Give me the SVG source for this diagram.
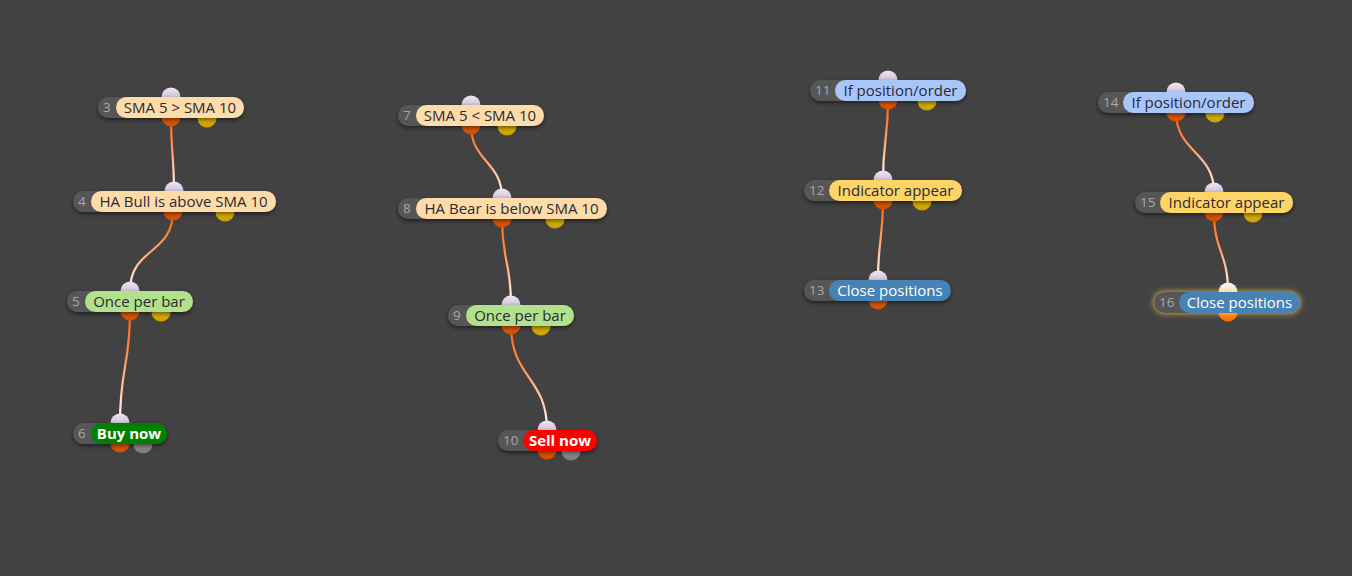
<svg xmlns="http://www.w3.org/2000/svg" width="1352" height="576" viewBox="0 0 1352 576">
<defs>
<style>
.num{font-family:"Open Sans","Noto Sans",sans-serif;font-size:13.5px;fill:#a8a8a8}
.lbl{font-family:"Open Sans","Noto Sans",sans-serif;font-size:15px;fill:#2a2a33;text-anchor:middle}
.lblw{font-family:"Open Sans","Noto Sans",sans-serif;font-size:15px;fill:#ffffff;text-anchor:middle}
.lblb{font-family:"Open Sans","Noto Sans",sans-serif;font-size:15px;font-weight:bold;fill:#ffffff;text-anchor:middle}
.gp{fill:#575757}
.pk{fill:#fddcaa}
.gr{fill:#b2e18c}
.bl{fill:#a9c6fb}
.yl{fill:#ffd466}
.st{fill:#4682b4}
.edge{fill:none;stroke-width:2.2}
</style>
<filter id="sh" x="-20%" y="-50%" width="140%" height="200%">
<feDropShadow dx="0" dy="2" stdDeviation="2" flood-color="#000" flood-opacity="0.55"/>
</filter>
<filter id="glow" x="-20%" y="-80%" width="140%" height="260%">
<feDropShadow dx="0" dy="0" stdDeviation="3" flood-color="#ffd24a" flood-opacity="0.9"/>
</filter>
<linearGradient id="gin" x1="0" y1="0" x2="0" y2="1"><stop offset="0" stop-color="#efe6f4"/><stop offset="1" stop-color="#b3a5c0"/></linearGradient>
<linearGradient id="gin2" x1="0" y1="0" x2="0" y2="1"><stop offset="0" stop-color="#fff6ee"/><stop offset="1" stop-color="#f6d2bc"/></linearGradient>
<linearGradient id="gor" x1="0" y1="0" x2="0" y2="1"><stop offset="0" stop-color="#ff7417"/><stop offset="1" stop-color="#d24d00"/></linearGradient>
<linearGradient id="gor2" x1="0" y1="0" x2="0" y2="1"><stop offset="0" stop-color="#ff9030"/><stop offset="1" stop-color="#ff6a00"/></linearGradient>
<linearGradient id="gye" x1="0" y1="0" x2="0" y2="1"><stop offset="0" stop-color="#ffd500"/><stop offset="1" stop-color="#c9a000"/></linearGradient>
<linearGradient id="ggy" x1="0" y1="0" x2="0" y2="1"><stop offset="0" stop-color="#b0b0b0"/><stop offset="1" stop-color="#7a7a7a"/></linearGradient>
<linearGradient id="e1" gradientUnits="userSpaceOnUse" x1="0" y1="117" x2="0" y2="191"><stop offset="0" stop-color="#ff6000"/><stop offset="0.35" stop-color="#ff8a45"/><stop offset="1" stop-color="#ffffff"/></linearGradient>
<linearGradient id="e2" gradientUnits="userSpaceOnUse" x1="0" y1="211" x2="0" y2="291"><stop offset="0" stop-color="#ff6000"/><stop offset="0.35" stop-color="#ff8a45"/><stop offset="1" stop-color="#ffffff"/></linearGradient>
<linearGradient id="e3" gradientUnits="userSpaceOnUse" x1="0" y1="311" x2="0" y2="423"><stop offset="0" stop-color="#ff6000"/><stop offset="0.35" stop-color="#ff8a45"/><stop offset="1" stop-color="#ffffff"/></linearGradient>
<linearGradient id="e4" gradientUnits="userSpaceOnUse" x1="0" y1="125" x2="0" y2="198"><stop offset="0" stop-color="#ff6000"/><stop offset="0.35" stop-color="#ff8a45"/><stop offset="1" stop-color="#ffffff"/></linearGradient>
<linearGradient id="e5" gradientUnits="userSpaceOnUse" x1="0" y1="218" x2="0" y2="305"><stop offset="0" stop-color="#ff6000"/><stop offset="0.35" stop-color="#ff8a45"/><stop offset="1" stop-color="#ffffff"/></linearGradient>
<linearGradient id="e6" gradientUnits="userSpaceOnUse" x1="0" y1="325" x2="0" y2="430"><stop offset="0" stop-color="#ff6000"/><stop offset="0.35" stop-color="#ff8a45"/><stop offset="1" stop-color="#ffffff"/></linearGradient>
<linearGradient id="e7" gradientUnits="userSpaceOnUse" x1="0" y1="100" x2="0" y2="180"><stop offset="0" stop-color="#ff6000"/><stop offset="0.35" stop-color="#ff8a45"/><stop offset="1" stop-color="#ffffff"/></linearGradient>
<linearGradient id="e8" gradientUnits="userSpaceOnUse" x1="0" y1="200" x2="0" y2="280"><stop offset="0" stop-color="#ff6000"/><stop offset="0.35" stop-color="#ff8a45"/><stop offset="1" stop-color="#ffffff"/></linearGradient>
<linearGradient id="e9" gradientUnits="userSpaceOnUse" x1="0" y1="112" x2="0" y2="192"><stop offset="0" stop-color="#ff6000"/><stop offset="0.35" stop-color="#ff8a45"/><stop offset="1" stop-color="#ffffff"/></linearGradient>
<linearGradient id="e10" gradientUnits="userSpaceOnUse" x1="0" y1="212" x2="0" y2="292"><stop offset="0" stop-color="#ff6000"/><stop offset="0.35" stop-color="#ff8a45"/><stop offset="1" stop-color="#ffffff"/></linearGradient>
</defs>
<rect width="1352" height="576" fill="#424242"/>

<g id="connectors">
<path class="edge" stroke="url(#e1)" d="M171,117 C171,150 174,158 174,191"/>
<path class="edge" stroke="url(#e2)" d="M173,211 C173,255 130,247 130,291"/>
<path class="edge" stroke="url(#e3)" d="M130,311 C130,367 120,367 120,423"/>
<path class="edge" stroke="url(#e4)" d="M471,125 C471,162 502,161 502,198"/>
<path class="edge" stroke="url(#e5)" d="M502,218 C502,262 511,261 511,305"/>
<path class="edge" stroke="url(#e6)" d="M511,325 C511,378 547,377 547,430"/>
<path class="edge" stroke="url(#e7)" d="M888,100 C888,140 883,140 883,180"/>
<path class="edge" stroke="url(#e8)" d="M883,200 C883,240 878,240 878,280"/>
<path class="edge" stroke="url(#e9)" d="M1176,112 C1176,152 1214,152 1214,192"/>
<path class="edge" stroke="url(#e10)" d="M1214,212 C1214,252 1228,252 1228,292"/>
</g>

<g id="node3">
<circle cx="171" cy="97" r="9.5" fill="url(#gin)"/>
<circle cx="171" cy="117" r="9.5" fill="url(#gor)"/>
<circle cx="207" cy="118" r="9.5" fill="url(#gye)"/>
<g filter="url(#sh)"><rect class="gp" x="98" y="97" width="40" height="21" rx="10.5"/><rect class="pk" x="116" y="97" width="128" height="21" rx="10.5"/></g>
<text class="num" x="103" y="112">3</text>
<text class="lbl" x="180" y="112.5">SMA 5 &gt; SMA 10</text>
</g>

<g id="node4">
<circle cx="174" cy="191" r="9.5" fill="url(#gin)"/>
<circle cx="173" cy="211" r="9.5" fill="url(#gor)"/>
<circle cx="225" cy="212" r="9.5" fill="url(#gye)"/>
<g filter="url(#sh)"><rect class="gp" x="73" y="191" width="40" height="21" rx="10.5"/><rect class="pk" x="91" y="191" width="185" height="21" rx="10.5"/></g>
<text class="num" x="78" y="206">4</text>
<text class="lbl" x="183.5" y="206.5">HA Bull is above SMA 10</text>
</g>

<g id="node5">
<circle cx="130" cy="291" r="9.5" fill="url(#gin)"/>
<circle cx="130" cy="311" r="9.5" fill="url(#gor)"/>
<circle cx="161" cy="312" r="9.5" fill="url(#gye)"/>
<g filter="url(#sh)"><rect class="gp" x="67" y="291" width="40" height="21" rx="10.5"/><rect class="gr" x="85" y="291" width="108" height="21" rx="10.5"/></g>
<text class="num" x="72" y="306">5</text>
<text class="lbl" x="139" y="306.5">Once per bar</text>
</g>

<g id="node6">
<circle cx="120" cy="423" r="9.5" fill="url(#gin)"/>
<circle cx="120" cy="443" r="9.5" fill="url(#gor)"/>
<circle cx="143" cy="444" r="9.5" fill="url(#ggy)"/>
<g filter="url(#sh)"><rect class="gp" x="73" y="423" width="40" height="21" rx="10.5"/><rect fill="#008000" x="91" y="423" width="76" height="21" rx="10.5"/></g>
<text class="num" x="78" y="438">6</text>
<text class="lblb" x="129" y="438.5">Buy now</text>
</g>

<g id="node7">
<circle cx="471" cy="105" r="9.5" fill="url(#gin)"/>
<circle cx="471" cy="125" r="9.5" fill="url(#gor)"/>
<circle cx="507" cy="126" r="9.5" fill="url(#gye)"/>
<g filter="url(#sh)"><rect class="gp" x="398" y="105" width="40" height="21" rx="10.5"/><rect class="pk" x="416" y="105" width="128" height="21" rx="10.5"/></g>
<text class="num" x="403" y="120">7</text>
<text class="lbl" x="480" y="120.5">SMA 5 &lt; SMA 10</text>
</g>

<g id="node8">
<circle cx="502" cy="198" r="9.5" fill="url(#gin)"/>
<circle cx="502" cy="218" r="9.5" fill="url(#gor)"/>
<circle cx="555" cy="219" r="9.5" fill="url(#gye)"/>
<g filter="url(#sh)"><rect class="gp" x="398" y="198" width="40" height="21" rx="10.5"/><rect class="pk" x="416" y="198" width="191" height="21" rx="10.5"/></g>
<text class="num" x="403" y="213">8</text>
<text class="lbl" x="511.5" y="213.5">HA Bear is below SMA 10</text>
</g>

<g id="node9">
<circle cx="511" cy="305" r="9.5" fill="url(#gin)"/>
<circle cx="511" cy="325" r="9.5" fill="url(#gor)"/>
<circle cx="541" cy="326" r="9.5" fill="url(#gye)"/>
<g filter="url(#sh)"><rect class="gp" x="448" y="305" width="40" height="21" rx="10.5"/><rect class="gr" x="466" y="305" width="108" height="21" rx="10.5"/></g>
<text class="num" x="453" y="320">9</text>
<text class="lbl" x="520" y="320.5">Once per bar</text>
</g>

<g id="node10">
<circle cx="547" cy="430" r="9.5" fill="url(#gin)"/>
<circle cx="547" cy="450" r="9.5" fill="url(#gor)"/>
<circle cx="571" cy="451" r="9.5" fill="url(#ggy)"/>
<g filter="url(#sh)"><rect class="gp" x="498" y="430" width="45" height="21" rx="10.5"/><rect fill="#ff0000" x="523" y="430" width="74" height="21" rx="10.5"/></g>
<text class="num" x="503" y="445">10</text>
<text class="lblb" x="560" y="445.5">Sell now</text>
</g>

<g id="node11">
<circle cx="888" cy="80" r="9.5" fill="url(#gin)"/>
<circle cx="888" cy="100" r="9.5" fill="url(#gor)"/>
<circle cx="927" cy="101" r="9.5" fill="url(#gye)"/>
<g filter="url(#sh)"><rect class="gp" x="810" y="80" width="45" height="21" rx="10.5"/><rect class="bl" x="835" y="80" width="131" height="21" rx="10.5"/></g>
<text class="num" x="815" y="95">11</text>
<text class="lbl" x="900.5" y="95.5">If position/order</text>
</g>

<g id="node12">
<circle cx="883" cy="180" r="9.5" fill="url(#gin)"/>
<circle cx="883" cy="200" r="9.5" fill="url(#gor)"/>
<circle cx="922" cy="201" r="9.5" fill="url(#gye)"/>
<g filter="url(#sh)"><rect class="gp" x="804" y="180" width="45" height="21" rx="10.5"/><rect class="yl" x="829" y="180" width="133" height="21" rx="10.5"/></g>
<text class="num" x="809" y="195">12</text>
<text class="lbl" x="895.5" y="195.5">Indicator appear</text>
</g>

<g id="node13">
<circle cx="878" cy="280" r="9.5" fill="url(#gin)"/>
<circle cx="878" cy="300" r="9.5" fill="url(#gor)"/>
<g filter="url(#sh)"><rect class="gp" x="804" y="280" width="45" height="21" rx="10.5"/><rect class="st" x="829" y="280" width="122" height="21" rx="10.5"/></g>
<text class="num" x="809" y="295">13</text>
<text class="lblw" x="890" y="295.5">Close positions</text>
</g>

<g id="node14">
<circle cx="1176" cy="92" r="9.5" fill="url(#gin)"/>
<circle cx="1176" cy="112" r="9.5" fill="url(#gor)"/>
<circle cx="1215" cy="113" r="9.5" fill="url(#gye)"/>
<g filter="url(#sh)"><rect class="gp" x="1098" y="92" width="45" height="21" rx="10.5"/><rect class="bl" x="1123" y="92" width="131" height="21" rx="10.5"/></g>
<text class="num" x="1103" y="107">14</text>
<text class="lbl" x="1188.5" y="107.5">If position/order</text>
</g>

<g id="node15">
<circle cx="1214" cy="192" r="9.5" fill="url(#gin)"/>
<circle cx="1214" cy="212" r="9.5" fill="url(#gor)"/>
<circle cx="1253" cy="213" r="9.5" fill="url(#gye)"/>
<g filter="url(#sh)"><rect class="gp" x="1135" y="192" width="45" height="21" rx="10.5"/><rect class="yl" x="1160" y="192" width="133" height="21" rx="10.5"/></g>
<text class="num" x="1140" y="207">15</text>
<text class="lbl" x="1226.5" y="207.5">Indicator appear</text>
</g>

<g id="node16">
<circle cx="1228" cy="292" r="9.5" fill="url(#gin2)"/>
<circle cx="1228" cy="312" r="9.5" fill="url(#gor2)"/>
<g filter="url(#glow)"><rect class="gp" x="1154" y="292" width="45" height="21" rx="10.5"/><rect class="st" x="1179" y="292" width="121" height="21" rx="10.5"/></g>
<text class="num" x="1159" y="307">16</text>
<text class="lblw" x="1239.5" y="307.5">Close positions</text>
</g>
</svg>
